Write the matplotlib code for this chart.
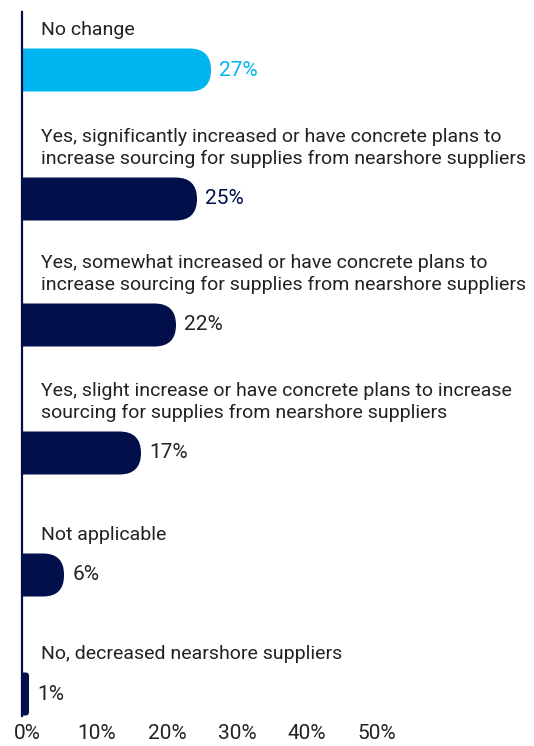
import matplotlib.pyplot as plt
from matplotlib.patches import PathPatch
from matplotlib.path import Path
from matplotlib.transforms import ScaledTranslation

plt.rcParams['font.family'] = ['Roboto', 'DejaVu Sans']

categories = [
    'No change',
    'Yes, significantly increased or have concrete plans to\nincrease sourcing for supplies from nearshore suppliers',
    'Yes, somewhat increased or have concrete plans to\nincrease sourcing for supplies from nearshore suppliers',
    'Yes, slight increase or have concrete plans to increase\nsourcing for supplies from nearshore suppliers',
    'Not applicable',
    'No, decreased nearshore suppliers',
]
values = [27, 25, 22, 17, 6, 1]
tick_values = [0, 10, 20, 30, 40, 50]

# layout (pixel rows of the bar centres)
bar_centers = [70, 199, 325, 453, 575, 694]
bar_h = 43

NAVY = '#020F4A'
BLUE = '#00B5EF'
TEXT = '#222222'
bar_colors = [BLUE] + [NAVY] * 5
value_colors = [BLUE, NAVY, TEXT, TEXT, TEXT, TEXT]

W, H = 534, 746
fig = plt.figure(figsize=(W / 100, H / 100), dpi=100)
x0, top, bottom = 22, 12, 716
px_per_pct = 7.0
ax = fig.add_axes([x0 / W, (H - bottom) / H, (W - x0) / W, (bottom - top) / H])
ax.set_xlim(0, (W - x0) / px_per_pct)
ax.set_ylim(bottom, top)

for s in ['top', 'right', 'bottom']:
    ax.spines[s].set_visible(False)
ax.spines['left'].set_color(NAVY)
ax.spines['left'].set_linewidth(1.6)
ax.set_yticks([])
ax.set_xticks(tick_values)
ax.set_xticklabels([f'{v}%' for v in tick_values])
ax.tick_params(axis='x', length=0, pad=6, labelsize=15, labelcolor=TEXT)
shift = ScaledTranslation(5 / 100, 0, fig.dpi_scale_trans)
for lbl in ax.get_xticklabels():
    lbl.set_transform(lbl.get_transform() + shift)

# pixel scale of data units
p0 = ax.transData.transform((0, 0))
p1 = ax.transData.transform((1, 1))
sx = abs(p1[0] - p0[0])
sy = abs(p1[1] - p0[1])


def round_bar(v, y0, h, r_x, r_y):
    y1 = y0 + h
    verts = [(0, y0), (v - r_x, y0), (v, y0), (v, y0 + r_y),
             (v, y1 - r_y), (v, y1), (v - r_x, y1), (0, y1), (0, y0)]
    codes = [Path.MOVETO, Path.LINETO, Path.CURVE3, Path.CURVE3,
             Path.LINETO, Path.CURVE3, Path.CURVE3, Path.LINETO, Path.CLOSEPOLY]
    return Path(verts, codes)


for cat, v, yc, bc, vc in zip(categories, values, bar_centers, bar_colors, value_colors):
    r_px = min(bar_h * sy / 2, v * sx / 2)
    y0 = yc - bar_h / 2
    ax.add_patch(PathPatch(round_bar(v, y0, bar_h, r_px / sx, r_px / sy),
                           fc=bc, ec='none'))
    ax.annotate(f'{v}%', xy=(v, yc), xytext=(6, 0), textcoords='offset points',
                va='center', ha='left', fontsize=15, color=vc)
    ax.annotate(cat, xy=(0, y0), xytext=(14, 7), textcoords='offset points',
                va='bottom', ha='left', fontsize=14, color=TEXT, linespacing=1.25)

fig.savefig('out.png', dpi=100)
